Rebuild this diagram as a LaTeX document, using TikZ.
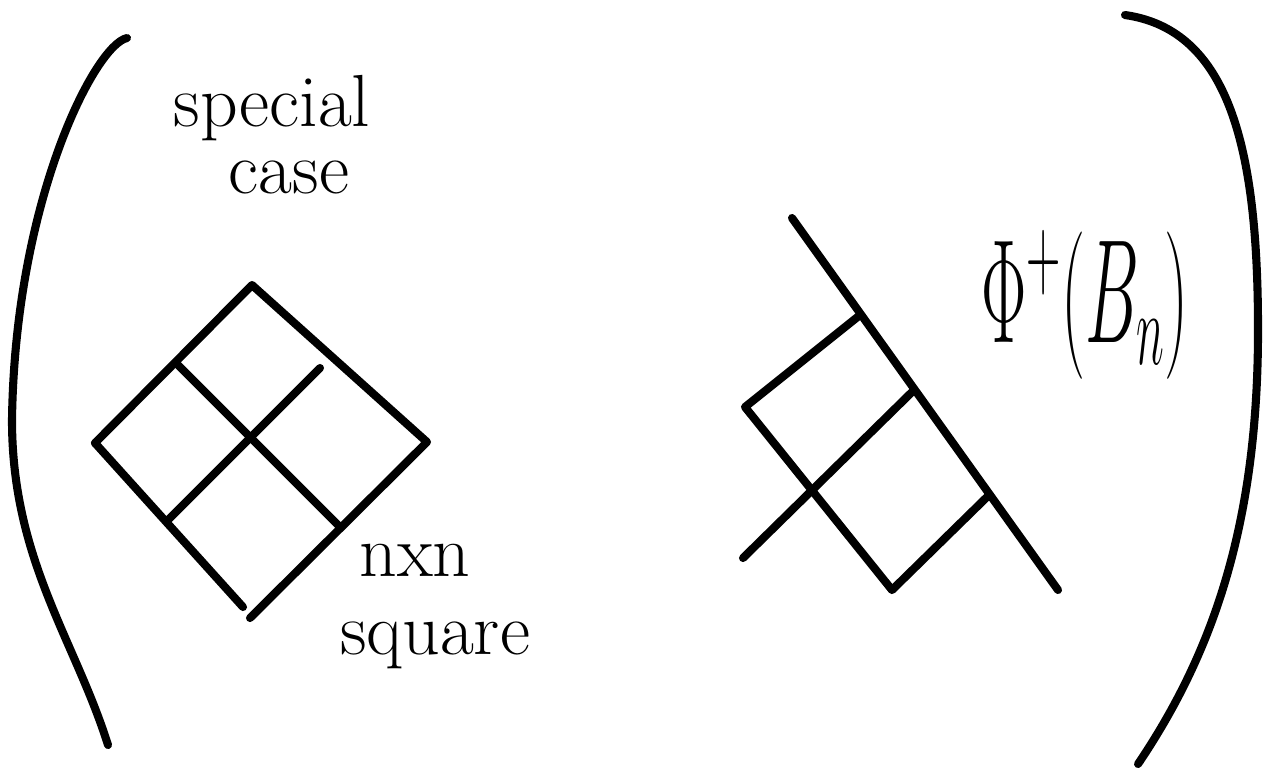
\RequirePackage{fix-cm}
\documentclass[tikz,border=0pt]{standalone}
\usepackage{amsmath,amssymb}
\usepackage{xcolor}

\tikzset{
  pen/.style={line width=2.3pt,line cap=round,line join=round},
  hand/.style={inner sep=0pt,font=\fontsize{21}{19}\selectfont}
}

\begin{document}
\begin{tikzpicture}[x=0.1mm,y=-0.1mm]
            \useasboundingbox (0,0) rectangle (1267,772);
            % big brackets
            \draw[pen] (127,38) .. controls (95,45) and (15,200) .. (12,420) .. controls (12,560) and (75,640) .. (108,745);
            \draw[pen] (1125,15) .. controls (1230,30) and (1258,150) .. (1258,330) .. controls (1258,520) and (1215,650) .. (1138,764);
            % labels
            \node[hand,align=left] at (272,135) (spec) {special\\\hspace{0.75em}case};
            \node[hand] at (415,560) (nxn) {nxn};
            \node[hand] at (435,645) (sq) {square};
            \node[inner sep=0pt,xscale=0.46,font=\fontsize{42}{48}\selectfont] at (1085,305) (phi) {$\Phi^{+}(B_n)$};
            % n x n square
            \coordinate (t) at (252,285);
            \coordinate (l) at (95,443);
            \coordinate (r) at (427,442);
            \coordinate (b) at (250,618);
            \coordinate (bl) at (243,607);
            \coordinate (a1) at (177,364);
            \coordinate (c1) at (340,527);
            \coordinate (a2) at (320,368);
            \coordinate (c2) at (168,520);
            \draw[pen] (l) -- (t) -- (r) -- (b);
            \draw[pen] (l) -- (bl);
            \draw[pen] (a1) -- (c1);
            \draw[pen] (a2) -- (c2);
            % staircase
            \coordinate (p1) at (792,218);
            \coordinate (p2) at (1058,590);
            \coordinate (q1) at (860,315);
            \coordinate (q2) at (745,407);
            \coordinate (q3) at (892,590);
            \coordinate (q4) at (989,495);
            \coordinate (s1) at (743,558);
            \coordinate (s2) at (914,390);
            \draw[pen] (p1) -- (p2);
            \draw[pen] (q1) -- (q2) -- (q3) -- (q4);
            \draw[pen] (s1) -- (s2);
          \end{tikzpicture}
\end{document}
